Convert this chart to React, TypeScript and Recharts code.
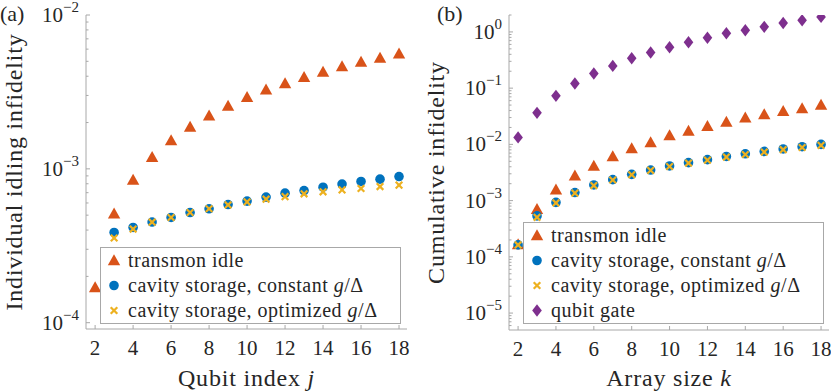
import React from "react";
import { ScatterChart, Scatter, XAxis, YAxis, Legend, Label } from "recharts";

// panel (a): individual idling infidelity vs qubit index j
const qubitIndex = [2, 3, 4, 5, 6, 7, 8, 9, 10, 11, 12, 13, 14, 15, 16, 17, 18];
const transmonIdle = [1.69e-4, 5.1e-4, 8.45e-4, 1.19e-3, 1.53e-3, 1.87e-3, 2.21e-3, 2.56e-3, 2.92e-3, 3.26e-3, 3.58e-3, 3.94e-3, 4.26e-3, 4.62e-3, 4.95e-3, 5.26e-3, 5.59e-3];
const cavityIndex = [3, 4, 5, 6, 7, 8, 9, 10, 11, 12, 13, 14, 15, 16, 17, 18];
const cavityConstant = [3.86e-4, 4.16e-4, 4.51e-4, 4.83e-4, 5.2e-4, 5.5e-4, 5.86e-4, 6.17e-4, 6.55e-4, 6.95e-4, 7.22e-4, 7.6e-4, 7.96e-4, 8.28e-4, 8.57e-4, 8.91e-4];
const cavityOptimized = [3.55e-4, 4.06e-4, 4.5e-4, 4.83e-4, 5.2e-4, 5.5e-4, 5.83e-4, 6.1e-4, 6.35e-4, 6.6e-4, 6.88e-4, 7.09e-4, 7.3e-4, 7.45e-4, 7.67e-4, 7.84e-4];

// panel (b): cumulative infidelity vs array size k
const arraySize = [2, 3, 4, 5, 6, 7, 8, 9, 10, 11, 12, 13, 14, 15, 16, 17, 18];
const cumIdle = [1.66e-4, 7.0e-4, 1.55e-3, 2.75e-3, 4.13e-3, 6.05e-3, 8.4e-3, 1.08e-2, 1.43e-2, 1.72e-2, 2.09e-2, 2.49e-2, 2.98e-2, 3.41e-2, 3.86e-2, 4.36e-2, 4.99e-2];
const cumConstant = [1.63e-4, 5.35e-4, 9.3e-4, 1.39e-3, 1.9e-3, 2.36e-3, 2.93e-3, 3.5e-3, 4.13e-3, 4.73e-3, 5.35e-3, 6.1e-3, 6.8e-3, 7.5e-3, 8.3e-3, 9.1e-3, 1.0e-2];
const cumOptimized = [1.63e-4, 5.05e-4, 9.1e-4, 1.36e-3, 1.85e-3, 2.33e-3, 2.88e-3, 3.45e-3, 4.05e-3, 4.65e-3, 5.25e-3, 5.95e-3, 6.6e-3, 7.3e-3, 8.05e-3, 8.8e-3, 9.6e-3];
const qubitGate = [0.0133, 0.0364, 0.073, 0.121, 0.182, 0.249, 0.34, 0.43, 0.535, 0.655, 0.79, 0.946, 1.07, 1.23, 1.44, 1.61, 1.85];

const xTicks = [2, 4, 6, 8, 10, 12, 14, 16, 18];
const decadesA = [1e-4, 1e-3, 1e-2];
const decadesB = [1e-6, 1e-5, 1e-4, 1e-3, 1e-2, 1e-1, 1];

const ORANGE = "#D95319";
const BLUE = "#0072BD";
const YELLOW = "#EDB120";
const PURPLE = "#7E2F8E";
const AXIS = "#a8a8a8";
const TEXT = "#262626";
const FONT = '"Liberation Serif", monospace';

const zip = (xs: number[], ys: number[]) => xs.map((x, i) => ({ x, y: ys[i] }));

const logTicks = (decades: number[], lo: number, hi: number) => {
  const out: number[] = [];
  decades.forEach((d) => {
    for (let m = 1; m < 10; m++) {
      const v = m * d;
      if (v >= lo && v <= hi) out.push(v);
    }
  });
  return out;
};

const isDecade = (v: number) => Math.abs(Math.log10(v) - Math.round(Math.log10(v))) < 1e-6;

const LeftTick = (props: any) => {
  const { x, y, payload } = props;
  const v = payload.value;
  const major = isDecade(v);
  const e = Math.round(Math.log10(v));
  return (
    <g>
      <line x1={x} x2={x + (major ? 4 : 2.5)} y1={y} y2={y} stroke={AXIS} />
      {major && (
        <text x={x - 7} y={y + 7} textAnchor="end" fill={TEXT} style={{ fontFamily: FONT, fontSize: 21 }}>
          10
          <tspan dy={-10} style={{ fontSize: 15 }}>{e < 0 ? "\u2212" + -e : String(e)}</tspan>
        </text>
      )}
    </g>
  );
};

const RightTick = (props: any) => {
  const { x, y, payload } = props;
  const major = isDecade(payload.value);
  return <line x1={x} x2={x - (major ? 4 : 2.5)} y1={y} y2={y} stroke={AXIS} />;
};

const BottomTick = (props: any) => {
  const { x, y, payload } = props;
  return (
    <g>
      <line x1={x} x2={x} y1={y} y2={y - 4} stroke={AXIS} />
      <text x={x} y={y + 26} textAnchor="middle" fill={TEXT} style={{ fontFamily: FONT, fontSize: 21 }}>
        {payload.value}
      </text>
    </g>
  );
};

const TopTick = (props: any) => {
  const { x, y } = props;
  return <line x1={x} x2={x} y1={y} y2={y + 4} stroke={AXIS} />;
};

const Triangle = ({ cx, cy }: any) => (
  <polygon points={`${cx},${cy - 6.3} ${cx + 6.2},${cy + 4.7} ${cx - 6.2},${cy + 4.7}`} fill={ORANGE} />
);
const Dot = ({ cx, cy }: any) => <circle cx={cx} cy={cy} r={4.8} fill={BLUE} />;
const Cross = ({ cx, cy }: any) => (
  <g stroke={YELLOW} strokeWidth={2.2}>
    <line x1={cx - 3.3} y1={cy - 3.3} x2={cx + 3.3} y2={cy + 3.3} />
    <line x1={cx - 3.3} y1={cy + 3.3} x2={cx + 3.3} y2={cy - 3.3} />
  </g>
);
const Diamond = ({ cx, cy }: any) => (
  <polygon points={`${cx},${cy - 6.2} ${cx + 4.8},${cy} ${cx},${cy + 6.2} ${cx - 4.8},${cy}`} fill={PURPLE} />
);

const markers: Record<string, (p: any) => React.ReactElement> = {
  idle: Triangle,
  constant: Dot,
  optimized: Cross,
  gate: Diamond,
};

const LegendBox = ({ items }: { items: { key: string; label: React.ReactNode }[] }) => (
  <div
    style={{
      border: `1px solid ${AXIS}`,
      background: "#fff",
      fontFamily: FONT,
      fontSize: 20,
      color: TEXT,
      letterSpacing: 0.5,
      boxSizing: "border-box",
    }}
  >
    {items.map((it) => {
      const M = markers[it.key];
      return (
        <div key={it.key} style={{ height: 25, display: "flex", alignItems: "center", whiteSpace: "nowrap" }}>
          <svg width={27} height={25} style={{ flex: "none" }}>
            <M cx={13} cy={12.5} />
          </svg>
          <span style={{ fontFamily: FONT }}>{it.label}</span>
        </div>
      );
    })}
  </div>
);

const gOverD = (
  <>
    <i>g</i>/Δ
  </>
);

const AxisTitle = ({ x, y, rotate, children }: any) => (
  <text
    transform={`translate(${x},${y})${rotate ? " rotate(-90)" : ""}`}
    textAnchor="middle"
    fill={TEXT}
    style={{ fontFamily: FONT, fontSize: 24, letterSpacing: 0.8 }}
  >
    {children}
  </text>
);

function PanelA() {
  const top = 15;
  const bottom = 329;
  const left = 86;
  const right = 407;
  return (
    <ScatterChart width={415} height={391} margin={{ top, right: 415 - right, bottom: 0, left: 0 }}>
      <XAxis xAxisId="b" type="number" dataKey="x" domain={[1.52, 18.42]} ticks={xTicks} interval={0}
        height={391 - bottom} tickSize={0} tickMargin={0} tick={<BottomTick />} stroke={AXIS} allowDataOverflow>
        <Label content={() => (
          <AxisTitle x={(left + right) / 2} y={386}>
            Qubit index <tspan fontStyle="italic">j</tspan>
          </AxisTitle>
        )} />
      </XAxis>
      <XAxis xAxisId="t" orientation="top" type="number" dataKey="x" domain={[1.52, 18.42]} ticks={xTicks}
        interval={0} height={0} tickSize={0} tickMargin={0} tick={<TopTick />} stroke={AXIS} allowDataOverflow />
      <YAxis yAxisId="l" type="number" dataKey="y" scale="log" domain={[9.1e-5, 1e-2]}
        ticks={logTicks(decadesA, 9.1e-5, 1e-2)} interval={0} width={left} tickSize={0} tickMargin={0}
        tick={<LeftTick />} stroke={AXIS} allowDataOverflow>
        <Label content={() => (
          <AxisTitle x={22} y={(top + bottom) / 2} rotate>
            Individual idling infidelity
          </AxisTitle>
        )} />
      </YAxis>
      <YAxis yAxisId="r" orientation="right" type="number" dataKey="y" scale="log" domain={[9.1e-5, 1e-2]}
        ticks={logTicks(decadesA, 9.1e-5, 1e-2)} interval={0} width={0} tickSize={0} tickMargin={0}
        tick={<RightTick />} stroke={AXIS} allowDataOverflow />
      <Scatter xAxisId="b" yAxisId="l" name="transmon idle" data={zip(qubitIndex, transmonIdle)} shape={<Triangle />} isAnimationActive={false} />
      <Scatter xAxisId="b" yAxisId="l" name="constant" data={zip(cavityIndex, cavityConstant)} shape={<Dot />} isAnimationActive={false} />
      <Scatter xAxisId="b" yAxisId="l" name="optimized" data={zip(cavityIndex, cavityOptimized)} shape={<Cross />} isAnimationActive={false} />
      <Legend layout="horizontal" verticalAlign="middle" align="center"
        wrapperStyle={{ left: 100, top: 247, width: 301 }}
        content={() => (
          <LegendBox items={[
            { key: "idle", label: "transmon idle" },
            { key: "constant", label: <>cavity storage, constant {gOverD}</> },
            { key: "optimized", label: <>cavity storage, optimized {gOverD}</> },
          ]} />
        )} />
    </ScatterChart>
  );
}

function PanelB() {
  const top = 15;
  const bottom = 330;
  const left = 93;
  const right = 413;
  const lo = 5e-6;
  const hi = 2;
  return (
    <ScatterChart width={415} height={391} margin={{ top, right: 415 - right, bottom: 0, left: 0 }}>
      <XAxis xAxisId="b" type="number" dataKey="x" domain={[1.52, 18.42]} ticks={xTicks} interval={0}
        height={391 - bottom} tickSize={0} tickMargin={0} tick={<BottomTick />} stroke={AXIS} allowDataOverflow>
        <Label content={() => (
          <AxisTitle x={(left + right) / 2} y={386}>
            Array size <tspan fontStyle="italic">k</tspan>
          </AxisTitle>
        )} />
      </XAxis>
      <XAxis xAxisId="t" orientation="top" type="number" dataKey="x" domain={[1.52, 18.42]} ticks={xTicks}
        interval={0} height={0} tickSize={0} tickMargin={0} tick={<TopTick />} stroke={AXIS} allowDataOverflow />
      <YAxis yAxisId="l" type="number" dataKey="y" scale="log" domain={[lo, hi]}
        ticks={logTicks(decadesB, lo, hi)} interval={0} width={left} tickSize={0} tickMargin={0}
        tick={<LeftTick />} stroke={AXIS} allowDataOverflow>
        <Label content={() => (
          <AxisTitle x={28} y={(top + bottom) / 2} rotate>
            Cumulative infidelity
          </AxisTitle>
        )} />
      </YAxis>
      <YAxis yAxisId="r" orientation="right" type="number" dataKey="y" scale="log" domain={[lo, hi]}
        ticks={logTicks(decadesB, lo, hi)} interval={0} width={0} tickSize={0} tickMargin={0}
        tick={<RightTick />} stroke={AXIS} allowDataOverflow />
      <Scatter xAxisId="b" yAxisId="l" name="transmon idle" data={zip(arraySize, cumIdle)} shape={<Triangle />} isAnimationActive={false} />
      <Scatter xAxisId="b" yAxisId="l" name="constant" data={zip(arraySize, cumConstant)} shape={<Dot />} isAnimationActive={false} />
      <Scatter xAxisId="b" yAxisId="l" name="optimized" data={zip(arraySize, cumOptimized)} shape={<Cross />} isAnimationActive={false} />
      <Scatter xAxisId="b" yAxisId="l" name="qubit gate" data={zip(arraySize, qubitGate)} shape={<Diamond />} isAnimationActive={false} />
      <Legend layout="horizontal" verticalAlign="middle" align="center"
        wrapperStyle={{ left: 107, top: 222, width: 301 }}
        content={() => (
          <LegendBox items={[
            { key: "idle", label: "transmon idle" },
            { key: "constant", label: <>cavity storage, constant {gOverD}</> },
            { key: "optimized", label: <>cavity storage, optimized {gOverD}</> },
            { key: "gate", label: "qubit gate" },
          ]} />
        )} />
    </ScatterChart>
  );
}

export default function App() {
  return (
    <div style={{ position: "absolute", left: 0, top: 0, width: 831, height: 391, background: "#fff", fontFamily: FONT }}>
      <div style={{ position: "absolute", left: 0, top: 0 }}>
        <PanelA />
      </div>
      <div style={{ position: "absolute", left: 416, top: 0 }}>
        <PanelB />
      </div>
      <div style={{ position: "absolute", left: 0, top: 1, fontFamily: FONT, fontSize: 22, color: TEXT }}>(a)</div>
      <div style={{ position: "absolute", left: 437, top: 1, fontFamily: FONT, fontSize: 22, color: TEXT }}>(b)</div>
    </div>
  );
}
